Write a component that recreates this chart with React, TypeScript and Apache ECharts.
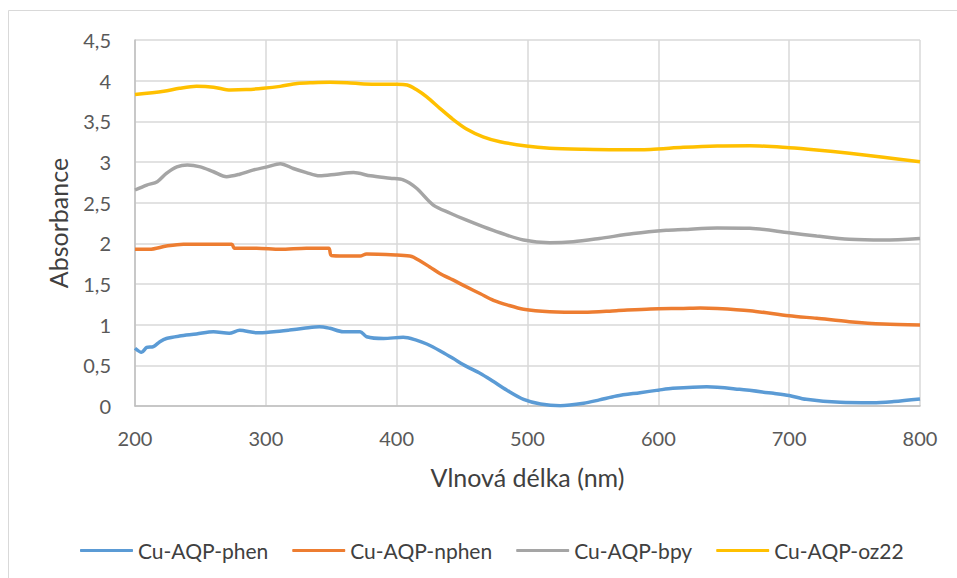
import React, { useEffect, useRef } from "react";
import * as echarts from "echarts";

const seriesNames = ["Cu-AQP-phen", "Cu-AQP-nphen", "Cu-AQP-bpy", "Cu-AQP-oz22"];
const seriesColors = ["#5B9BD5", "#ED7D31", "#A5A5A5", "#FFC000"];

const phenWl = [200, 205, 209, 214, 219, 224, 234, 247, 260, 272, 280, 293, 306, 318, 329, 341, 349, 359, 372, 377, 390, 405, 415, 423, 433, 443, 453, 464, 474, 484, 497, 510, 525, 543, 555, 568, 586, 600, 611, 637, 662, 688, 700, 713, 739, 764, 780, 800];
const phenAbs = [0.71, 0.66, 0.72, 0.73, 0.79, 0.83, 0.86, 0.885, 0.914, 0.894, 0.93, 0.9, 0.914, 0.934, 0.955, 0.975, 0.955, 0.914, 0.914, 0.852, 0.83, 0.845, 0.81, 0.762, 0.68, 0.586, 0.49, 0.4, 0.3, 0.197, 0.082, 0.025, 0.004, 0.033, 0.075, 0.123, 0.164, 0.195, 0.217, 0.237, 0.205, 0.156, 0.13, 0.082, 0.045, 0.04, 0.055, 0.086];

const nphenWl = [200, 211, 224, 237, 252, 270, 274, 276, 293, 311, 331, 348, 350, 360, 372, 377, 400, 410, 413, 425, 433, 443, 453, 464, 474, 485, 497, 517, 543, 568, 594, 619, 632, 645, 670, 700, 721, 746, 772, 800];
const nphenAbs = [1.927, 1.927, 1.967, 1.99, 1.99, 1.99, 1.99, 1.94, 1.94, 1.927, 1.94, 1.94, 1.85, 1.844, 1.844, 1.87, 1.857, 1.844, 1.828, 1.713, 1.63, 1.55, 1.467, 1.38, 1.3, 1.24, 1.19, 1.16, 1.152, 1.172, 1.193, 1.2, 1.205, 1.2, 1.172, 1.11, 1.078, 1.037, 1.008, 0.996];

const bpyWl = [200, 209, 217, 224, 232, 240, 250, 260, 270, 280, 290, 301, 311, 321, 331, 341, 354, 367, 380, 395, 405, 415, 428, 441, 453, 466, 479, 497, 517, 535, 555, 581, 606, 619, 645, 670, 700, 721, 746, 772, 800];
const bpyAbs = [2.656, 2.717, 2.758, 2.86, 2.94, 2.963, 2.94, 2.88, 2.82, 2.85, 2.9, 2.94, 2.98, 2.92, 2.87, 2.83, 2.85, 2.87, 2.83, 2.8, 2.78, 2.68, 2.47, 2.37, 2.287, 2.205, 2.13, 2.04, 2.008, 2.02, 2.06, 2.12, 2.16, 2.17, 2.19, 2.185, 2.13, 2.09, 2.05, 2.04, 2.06];

const oz22Wl = [200, 222, 234, 247, 260, 273, 285, 298, 311, 324, 336, 349, 362, 375, 387, 400, 408, 415, 423, 433, 443, 453, 466, 479, 499, 517, 543, 568, 594, 619, 645, 670, 700, 721, 746, 772, 800];
const oz22Abs = [3.83, 3.87, 3.906, 3.93, 3.92, 3.885, 3.89, 3.906, 3.93, 3.965, 3.975, 3.98, 3.975, 3.96, 3.955, 3.955, 3.947, 3.89, 3.8, 3.66, 3.525, 3.41, 3.31, 3.25, 3.197, 3.17, 3.156, 3.15, 3.155, 3.18, 3.197, 3.2, 3.176, 3.148, 3.107, 3.058, 3.004];

const wlSets = [phenWl, nphenWl, bpyWl, oz22Wl];
const absSets = [phenAbs, nphenAbs, bpyAbs, oz22Abs];

const FONT = "Lato";

export default function App() {
  const ref = useRef<HTMLDivElement>(null);
  useEffect(() => {
    if (!ref.current) return;
    const chart = echarts.init(ref.current, undefined, { renderer: "svg" });
    chart.setOption({
      animation: false,
      backgroundColor: "#ffffff",
      textStyle: { fontFamily: FONT },
      graphic: [
        {
          type: "rect",
          shape: { x: 8.5, y: 10.5, width: 1000, height: 1000 },
          style: { fill: "none", stroke: "#d9d9d9", lineWidth: 1 },
          silent: true,
        },
      ],
      grid: { left: 135, top: 40, width: 785, height: 366 },
      legend: {
        left: 75,
        top: 535,
        itemWidth: 53,
        itemHeight: 3,
        itemGap: 24,
        icon: "roundRect",
        textStyle: { fontFamily: FONT, fontSize: 21, color: "#404040" },
        data: seriesNames,
      },
      xAxis: {
        type: "value",
        min: 200,
        max: 800,
        interval: 100,
        name: "Vlnová délka (nm)",
        nameLocation: "middle",
        nameGap: 58,
        nameTextStyle: { fontFamily: FONT, fontSize: 25, color: "#404040" },
        axisLine: { show: true, lineStyle: { color: "#bfbfbf", width: 1.5 } },
        axisTick: { show: false },
        axisLabel: { fontFamily: FONT, fontSize: 20, color: "#595959", margin: 22 },
        splitLine: { show: true, lineStyle: { color: "#d9d9d9", width: 1.5 } },
      },
      yAxis: {
        type: "value",
        min: 0,
        max: 4.5,
        interval: 0.5,
        name: "Absorbance",
        nameLocation: "middle",
        nameGap: 65,
        nameTextStyle: { fontFamily: FONT, fontSize: 25, color: "#404040" },
        axisLine: { show: true, lineStyle: { color: "#bfbfbf", width: 1.5 } },
        axisTick: { show: false },
        axisLabel: {
          fontFamily: FONT,
          fontSize: 20,
          color: "#595959",
          margin: 24,
          formatter: (v: number) => String(v).replace(".", ","),
        },
        splitLine: { show: true, lineStyle: { color: "#d9d9d9", width: 1.5 } },
      },
      series: seriesNames.map((name, i) => ({
        name,
        type: "line",
        showSymbol: false,
        symbol: "none",
        smooth: 0.3,
        color: seriesColors[i],
        lineStyle: { color: seriesColors[i], width: 3.5 },
        data: wlSets[i].map((w, j) => [w, absSets[i][j]]),
      })),
    });
    return () => chart.dispose();
  }, []);
  return (
    <div
      ref={ref}
      style={{ position: "absolute", left: 0, top: 0, width: 957, height: 578 }}
    />
  );
}
